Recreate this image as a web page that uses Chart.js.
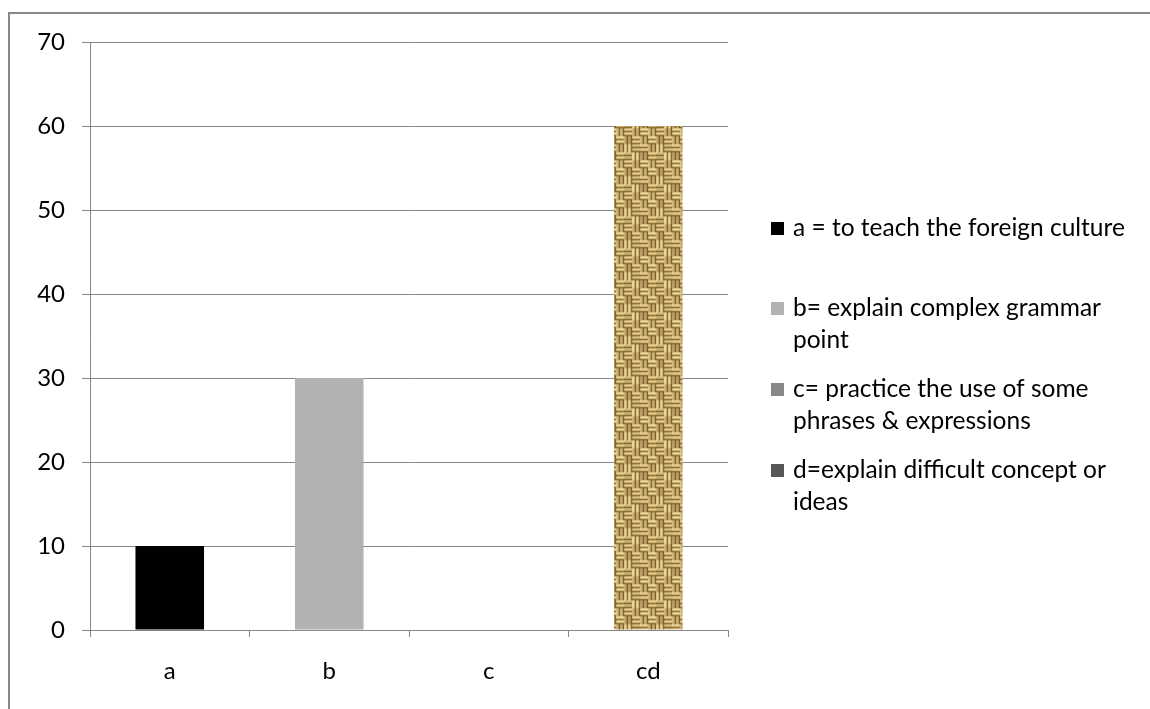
<!DOCTYPE html>
<html>
<head>
<meta charset="utf-8">
<style>
  html, body { margin: 0; padding: 0; background: #ffffff; }
  #wrap { position: relative; width: 1150px; height: 709px; }
</style>
<script src="https://cdn.jsdelivr.net/npm/chart.js@4"></script>
</head>
<body>
<div id="wrap"><canvas id="chart" width="1150" height="709"></canvas></div>
<script>
// Categories and values
const categories = ['a', 'b', 'c', 'cd'];
const values = [10, 30, 0, 60];
const yTicks = [0, 10, 20, 30, 40, 50, 60, 70];

// Legend entries (text lines) and their swatch colours
const legendLabels = [
  ['a = to teach the foreign culture'],
  ['b= explain complex grammar', 'point'],
  ['c= practice the use of some', 'phrases & expressions'],
  ['d=explain difficult concept or', 'ideas']
];
const legendColors = ['#000000', '#b2b2b2', '#878787', '#575757'];

const FONT = 'Lato, "Open Sans", sans-serif';
const GRID = '#878787';

// Woven burlap tile used as the fill for the last bar
function burlapPattern(ctx) {
  const cell = 8, n = 4;
  const t = document.createElement('canvas');
  t.width = cell * n; t.height = cell * n;
  const c = t.getContext('2d');
  c.fillStyle = '#c6a662';
  c.fillRect(0, 0, t.width, t.height);
  // 0 = horizontal threads, 1 = vertical threads
  const weave = [
    [0, 1, 0, 1],
    [1, 0, 1, 0],
    [0, 1, 1, 0],
    [1, 0, 0, 1]
  ];
  // darker patches give the cloth a mottled look
  const shadeMap = [
    [0.00, 0.15, 0.05, 0.25],
    [0.20, 0.00, 0.30, 0.05],
    [0.05, 0.25, 0.00, 0.15],
    [0.30, 0.05, 0.20, 0.00]
  ];
  const shades = ['#f4e4aa', '#e6cf8c', '#c7a562', '#7e5e27'];
  for (let r = 0; r < n; r++) {
    for (let k = 0; k < n; k++) {
      const x0 = k * cell, y0 = r * cell;
      for (let s = 0; s < cell; s++) {
        c.fillStyle = shades[s % 4];
        if (weave[r][k] === 0) c.fillRect(x0, y0 + s, cell, 1);
        else c.fillRect(x0 + s, y0, 1, cell);
      }
      c.fillStyle = 'rgba(90,60,15,' + shadeMap[r][k] + ')';
      c.fillRect(x0, y0, cell, cell);
    }
  }
  // soften the weave slightly
  const t2 = document.createElement('canvas');
  t2.width = t.width; t2.height = t.height;
  const c2 = t2.getContext('2d');
  c2.drawImage(t, 0, 0);
  c2.globalAlpha = 0.35;
  c2.drawImage(t, 1, 0); c2.drawImage(t, -t.width + 1, 0);
  c2.drawImage(t, 0, 1); c2.drawImage(t, 0, -t.height + 1);
  return ctx.createPattern(t2, 'repeat');
}

const canvas = document.getElementById('chart');
const ctx = canvas.getContext('2d');
const barFills = ['#000000', '#b2b2b2', '#878787', burlapPattern(ctx)];

// Outer frame and the custom legend drawn on the canvas
const framePlugin = {
  id: 'frame',
  beforeDraw(chart) {
    const c = chart.ctx;
    c.save();
    c.fillStyle = '#ffffff';
    c.fillRect(0, 0, chart.width, chart.height);
    c.strokeStyle = '#888888';
    c.lineWidth = 2;
    c.strokeRect(9, 13, chart.width + 20, chart.height + 20);
    c.restore();
  },
  afterDraw(chart) {
    const c = chart.ctx;
    c.save();
    c.font = '24.5px ' + FONT;
    c.textBaseline = 'middle';
    const x0 = 771, tx = 793, lineH = 32;
    const starts = [228, 308, 389, 470];
    legendLabels.forEach((lines, i) => {
      const y = starts[i];
      c.fillStyle = legendColors[i];
      c.fillRect(x0, y - 6, 13, 13);
      c.fillStyle = '#000000';
      lines.forEach((ln, j) => c.fillText(ln, tx, y + j * lineH));
    });
    c.restore();
  }
};

new Chart(ctx, {
  type: 'bar',
  data: {
    labels: categories,
    datasets: [{
      data: values,
      backgroundColor: barFills,
      borderWidth: 0,
      barPercentage: 0.43,
      categoryPercentage: 1.0
    }]
  },
  options: {
    responsive: false,
    animation: false,
    layout: { padding: { left: 0, right: 422, top: 42, bottom: 0 } },
    plugins: {
      legend: { display: false },
      tooltip: { enabled: false }
    },
    scales: {
      x: {
        offset: true,
        grid: {
          offset: true,
          drawOnChartArea: false,
          drawTicks: true,
          tickLength: 7,
          color: GRID,
          lineWidth: 1
        },
        border: { color: GRID, width: 1 },
        ticks: {
          color: '#000000',
          font: { family: FONT, size: 24 },
          padding: 20,
          maxRotation: 0
        },
        afterFit(scale) { scale.height = 79; }
      },
      y: {
        min: 0,
        max: 70,
        afterBuildTicks(scale) { scale.ticks = yTicks.map(v => ({ value: v })); },
        grid: {
          color: GRID,
          lineWidth: 1,
          drawTicks: true,
          tickLength: 8
        },
        border: { color: GRID, width: 1 },
        ticks: {
          color: '#000000',
          font: { family: FONT, size: 24 },
          padding: 17
        },
        afterFit(scale) { scale.width = 90; }
      }
    }
  },
  plugins: [framePlugin]
});
</script>
</body>
</html>
